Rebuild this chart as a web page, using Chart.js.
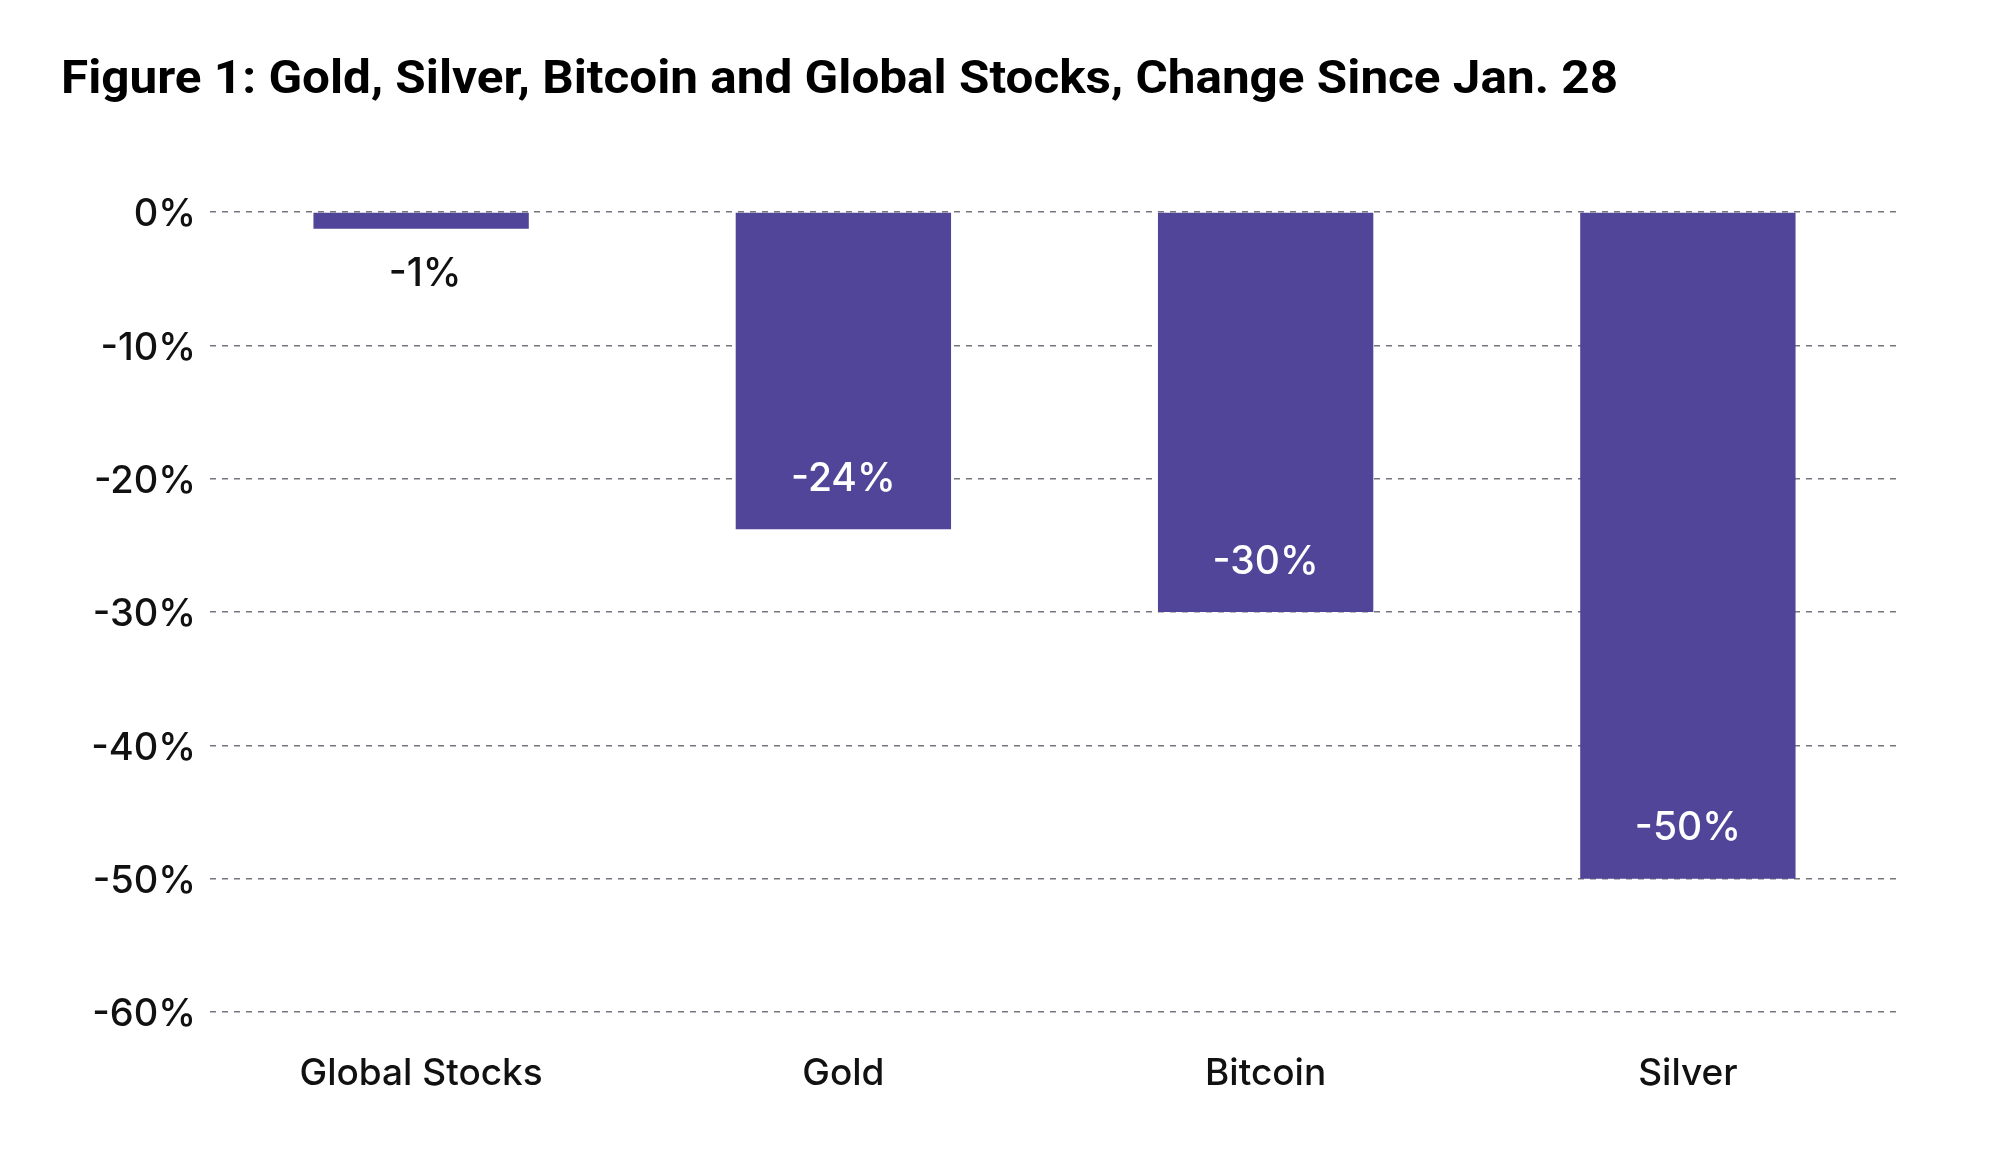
<!DOCTYPE html>
<html>
<head>
<meta charset="utf-8">
<script src="https://cdn.jsdelivr.net/npm/chart.js@4.4.1/dist/chart.umd.min.js"></script>
<style>
  body { margin: 0; background: #fff; }
  #wrap { width: 2000px; height: 1165px; position: relative; }
</style>
</head>
<body>
<div id="wrap"><canvas id="my-chart"></canvas></div>
<script>
const categories = ['Global Stocks', 'Gold', 'Bitcoin', 'Silver'];
const changes = [-1.25, -23.8, -30, -50];
const valueLabels = ['-1%', '-24%', '-30%', '-50%'];
const yTicks = [0, -10, -20, -30, -40, -50, -60];

const titleText = 'Figure 1: Gold, Silver, Bitcoin and Global Stocks, Change Since Jan. 28';
const barColor = '#504598';

// title squeezed to the width of the condensed original
const titlePlugin = {
	id: 'figTitle',
	afterDraw(chart) {
		const ctx = chart.ctx;
		ctx.save();
		ctx.font = 'bold 47px Roboto';
		ctx.fillStyle = '#000';
		ctx.textBaseline = 'alphabetic';
		const w = ctx.measureText(titleText).width;
		ctx.translate(61, 93);
		ctx.scale(1557 / w, 1);
		ctx.fillText(titleText, 0, 0);
		ctx.restore();
	}
};

// value labels: inside the bar near the end, or below it when the bar is tiny
const valuePlugin = {
	id: 'valueLabels',
	afterDatasetsDraw(chart) {
		const ctx = chart.ctx;
		const meta = chart.getDatasetMeta(0);
		ctx.save();
		ctx.font = '500 39px Inter';
		ctx.textAlign = 'center';
		ctx.textBaseline = 'middle';
		meta.data.forEach((bar, i) => {
			if (changes[i] > -5) {
				ctx.fillStyle = '#111';
				ctx.fillText(valueLabels[i], bar.x + 4, bar.y + 46);
			} else {
				ctx.fillStyle = '#fff';
				ctx.fillText(valueLabels[i], bar.x, bar.y - 50);
			}
		});
		ctx.restore();
	}
};

const ctx = document.getElementById('my-chart').getContext('2d');
const myChart = new Chart(ctx, {
	type: 'bar',
	data: {
		labels: categories,
		datasets: [{
			label: 'Change since Jan. 28',
			data: changes,
			backgroundColor: barColor,
			borderWidth: 0,
			barPercentage: 0.51,
			categoryPercentage: 1
		}]
	},
	options: {
		responsive: true,
		maintainAspectRatio: false,
		animation: false,
		layout: {
			padding: { top: 212, right: 101, bottom: 0, left: 0 }
		},
		plugins: {
			legend: { display: false },
			title: { display: false },
			tooltip: { enabled: false }
		},
		scales: {
			x: {
				grid: { display: false },
				border: { display: false },
				ticks: {
					color: '#111',
					font: { family: 'Inter', size: 37, weight: '500' },
					padding: 32,
					maxRotation: 0
				},
				afterFit(scale) { scale.height = 153; }
			},
			y: {
				min: Math.min(...yTicks),
				max: Math.max(...yTicks),
				afterBuildTicks(scale) {
					scale.ticks = yTicks.map(v => ({ value: v }));
				},
				grid: {
					color: '#75747f',
					lineWidth: 1.5,
					drawTicks: false
				},
				border: { display: false, dash: [6, 6] },
				ticks: {
					color: '#111',
					font: { family: 'Inter', size: 38, weight: '500' },
					padding: 14,
					labelOffset: 3,
					callback: v => v + '%'
				},
				afterFit(scale) { scale.width = 210; }
			}
		}
	},
	plugins: [titlePlugin, valuePlugin]
});
</script>
</body>
</html>
